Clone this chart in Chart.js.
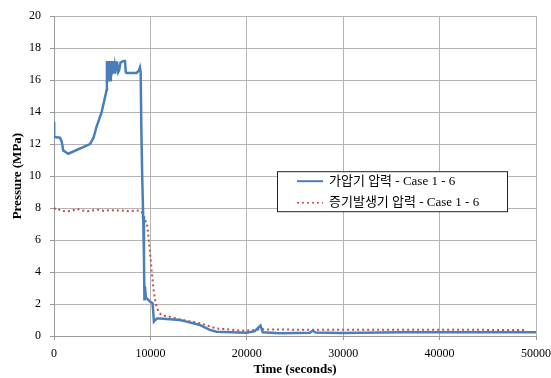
<!DOCTYPE html>
<html><head><meta charset="utf-8">
<script src="https://cdn.jsdelivr.net/npm/chart.js@4"></script>
<style>html,body{margin:0;padding:0;background:#fff}#wrap{width:551px;height:378px;position:relative}</style>
</head><body><div id="wrap"><canvas id="c" width="551" height="378"></canvas></div>
<script>
const seriesLabels = ["가압기 압력 - Case 1 - 6", "증기발생기 압력 - Case 1 - 6"];
const xTitle = "Time (seconds)";
const yTitle = "Pressure (MPa)";
const blueTime = [0,20,620,800,960,1480,3730,4100,4420,4940,5390,5460,5490,5550,5600,5650,5700,5750,5800,5850,5900,5960,6020,6080,6140,6200,6280,6350,6450,6550,6660,6750,6900,7200,7360,7450,7530,8570,8800,8912,8990,9060,9150,9250,9330,9380,9430,9534,9637,9948,10228,10363,10674,10984,12021,13057,13750,15130,15470,16166,16860,19969,20830,21420,21658,23420,26530,26840,27150,29640,36170,50000];
const bluePressure = [13.4,12.45,12.4,12.15,11.6,11.4,12.0,12.4,13.1,14.0,15.2,15.4,17.2,16.0,17.2,16.1,17.2,16.2,17.1,16.0,17.2,16.3,17.2,16.4,17.1,16.6,16.9,16.4,17.1,17.1,16.5,16.6,17.1,17.2,17.2,16.5,16.45,16.45,16.6,16.8,16.5,13.0,10.0,7.5,5.0,2.3,3.1,2.4,2.35,2.15,2.05,0.9,1.1,1.1,1.05,1.0,0.9,0.69,0.58,0.38,0.27,0.21,0.3,0.65,0.23,0.17,0.2,0.33,0.22,0.18,0.23,0.23];
const redTime = [0,342,620,1200,1800,2400,2900,3400,4000,4600,5200,5800,6300,7000,7800,8600,9088,9223,9430,9637,9741,9870,10030,10160,10330,10540,10850,11160,12000,13057,15130,16800,19500,21000,21500,23000,48800];
const redPressure = [7.94,8.0,7.85,7.8,7.82,7.95,7.85,7.8,7.85,7.9,7.82,7.88,7.85,7.85,7.8,7.85,7.8,7.35,7.25,7.05,6.5,5.8,4.75,3.9,2.9,2.05,1.5,1.3,1.2,1.04,0.8,0.48,0.33,0.38,0.42,0.4,0.38];

const toPts = (xs, ys) => xs.map((x, i) => ({x: x, y: ys[i]}));
const serif = "'Liberation Serif','Times New Roman','Noto Sans CJK KR',serif";

const legendPlugin = {
  id: 'boxLegend',
  afterDraw(chart) {
    const ctx = chart.ctx, a = chart.chartArea;
    const bx = a.right - 259, by = a.top + 155, bw = 230, bh = 40;
    ctx.save();
    ctx.fillStyle = '#fff';
    ctx.fillRect(bx, by, bw, bh);
    ctx.strokeStyle = '#222';
    ctx.lineWidth = 1;
    ctx.strokeRect(bx + 0.5, by + 0.5, bw, bh);
    chart.data.datasets.forEach((ds, i) => {
      const ly = by + 10 + i * 21.5;
      ctx.beginPath();
      ctx.strokeStyle = ds.borderColor;
      ctx.lineWidth = i === 0 ? 2 : 1.5;
      ctx.setLineDash(ds.borderDash || []);
      ctx.moveTo(bx + 20, ly);
      ctx.lineTo(bx + 46, ly);
      ctx.stroke();
      ctx.setLineDash([]);
      ctx.fillStyle = '#000';
      ctx.font = "13px " + serif;
      ctx.textBaseline = 'middle';
      ctx.fillText(ds.label, bx + 52, ly);
    });
    ctx.restore();
  }
};

new Chart(document.getElementById('c'), {
  type: 'line',
  data: {
    datasets: [
      {label: seriesLabels[0], data: toPts(blueTime, bluePressure), borderColor: '#4a7ebb', borderWidth: 2.5, pointRadius: 0, tension: 0, fill: false},
      {label: seriesLabels[1], data: toPts(redTime, redPressure), borderColor: '#c0504d', borderWidth: 2, borderDash: [2, 3], pointRadius: 0, tension: 0, fill: false}
    ]
  },
  options: {
    responsive: false,
    animation: false,
    layout: {padding: {left: 0, right: 15, top: 16, bottom: 0}},
    plugins: {legend: {display: false}, tooltip: {enabled: false}},
    scales: {
      x: {
        type: 'linear', min: 0, max: 50000,
        ticks: {stepSize: 10000, font: {family: serif, size: 12}, color: '#000', padding: 7, maxRotation: 0, callback: v => String(v)},
        grid: {color: '#b4b4b4', tickLength: 4, tickColor: '#999'},
        border: {color: '#999'},
        title: {display: true, text: xTitle, font: {family: serif, size: 13, weight: 'bold'}, color: '#000', padding: {top: 0, bottom: 1}},
        afterFit(s) { s.height = 42; s.paddingRight = 0; }
      },
      y: {
        min: 0, max: 20,
        ticks: {stepSize: 2, font: {family: serif, size: 12}, color: '#000', padding: 9},
        grid: {color: '#b4b4b4', tickLength: 4, tickColor: '#999'},
        border: {color: '#999'},
        title: {display: true, text: yTitle, font: {family: serif, size: 13, weight: 'bold'}, color: '#000', padding: {top: 10, bottom: 0}},
        afterFit(s) { s.width = 54; }
      }
    }
  },
  plugins: [legendPlugin]
});
</script></body></html>
